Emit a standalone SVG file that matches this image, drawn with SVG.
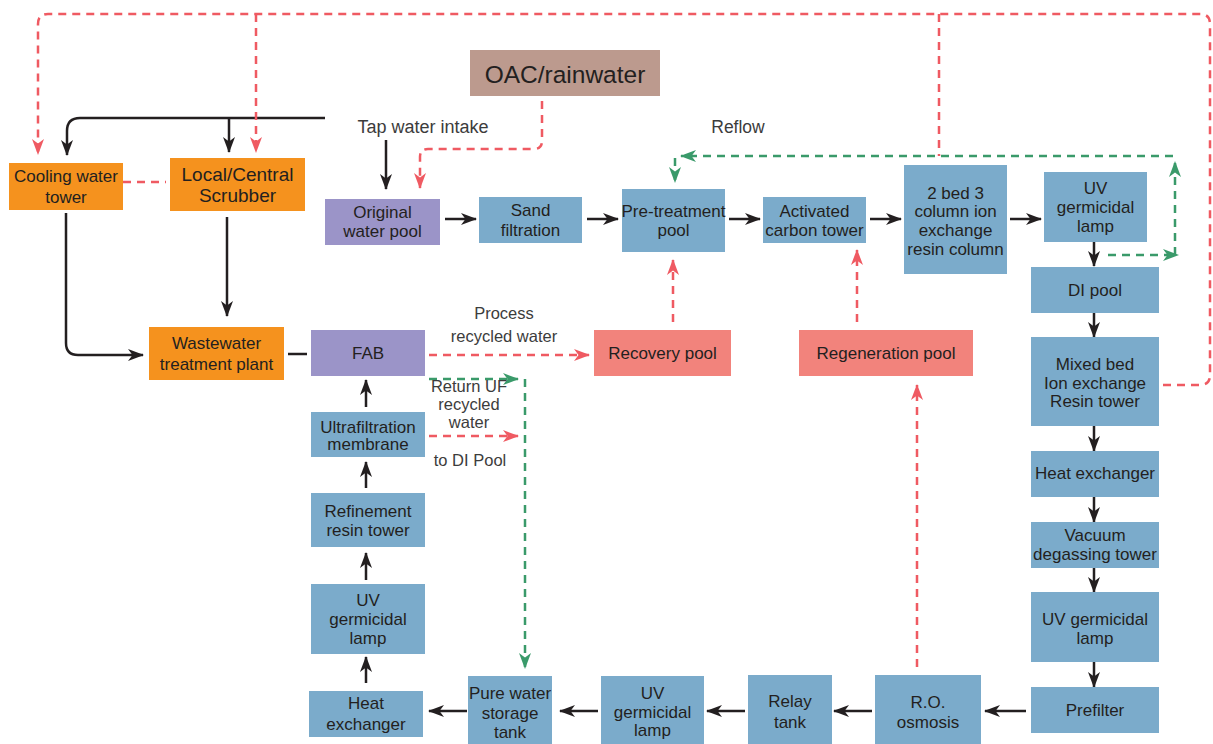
<svg xmlns="http://www.w3.org/2000/svg" width="1213" height="744" viewBox="0 0 1213 744">
<defs>
<style>
.t{font-family:"Liberation Sans",Arial,Helvetica,sans-serif;font-size:17px;fill:#231F20;text-anchor:middle}
.lbl{font-family:"Liberation Sans",Arial,Helvetica,sans-serif;font-size:16.5px;fill:#3C3C3C;text-anchor:middle}
.or{fill:#F5921E}.bl{fill:#7BABCB}.pu{fill:#9B94C8}.br{fill:#BC9A8E}.sa{fill:#F2837C}
.k{fill:none;stroke:#231F20;stroke-width:2.5}
.r{fill:none;stroke:#EF5A62;stroke-width:2.5;stroke-dasharray:8 6}
.g{fill:none;stroke:#3A9A6A;stroke-width:2.5;stroke-dasharray:8 6}
</style>
<marker id="ak" viewBox="0 0 16 12" refX="15" refY="6" markerWidth="16" markerHeight="12" markerUnits="userSpaceOnUse" orient="auto"><path d="M0,0 L16,6 L0,12 L4.5,6 z" fill="#231F20"/></marker>
<marker id="ar" viewBox="0 0 16 12" refX="15" refY="6" markerWidth="16" markerHeight="12" markerUnits="userSpaceOnUse" orient="auto"><path d="M0,0 L16,6 L0,12 L4.5,6 z" fill="#EF5A62"/></marker>
<marker id="ag" viewBox="0 0 16 12" refX="15" refY="6" markerWidth="16" markerHeight="12" markerUnits="userSpaceOnUse" orient="auto"><path d="M0,0 L16,6 L0,12 L4.5,6 z" fill="#3A9A6A"/></marker>
</defs>
<rect width="1213" height="744" fill="#FFFFFF"/>

<g id="connectors">
<!-- black -->
<path class="k" d="M325,118 H80 Q67,118 67,131 V155" marker-end="url(#ak)"/>
<path class="k" d="M229,118 V152" marker-end="url(#ak)"/>
<path class="k" d="M386,140 V189" marker-end="url(#ak)"/>
<path class="k" d="M66,213 V343 Q66,355 78,355 H143" marker-end="url(#ak)"/>
<path class="k" d="M227,217 V316" marker-end="url(#ak)"/>
<path class="k" d="M288,354 H307"/>
<path class="k" d="M445,219 H476" marker-end="url(#ak)"/>
<path class="k" d="M587,219 H618" marker-end="url(#ak)"/>
<path class="k" d="M729,219 H760" marker-end="url(#ak)"/>
<path class="k" d="M870,219 H901" marker-end="url(#ak)"/>
<path class="k" d="M1010,219 H1041" marker-end="url(#ak)"/>
<path class="k" d="M1094,242 V266" marker-end="url(#ak)"/>
<path class="k" d="M1094,313 V337" marker-end="url(#ak)"/>
<path class="k" d="M1094,426 V451" marker-end="url(#ak)"/>
<path class="k" d="M1094,497 V522" marker-end="url(#ak)"/>
<path class="k" d="M1094,568 V592" marker-end="url(#ak)"/>
<path class="k" d="M1094,662 V687" marker-end="url(#ak)"/>
<path class="k" d="M1026,711 H985" marker-end="url(#ak)"/>
<path class="k" d="M872,711 H834" marker-end="url(#ak)"/>
<path class="k" d="M745,711 H707" marker-end="url(#ak)"/>
<path class="k" d="M598,711 H560" marker-end="url(#ak)"/>
<path class="k" d="M467,711 H429" marker-end="url(#ak)"/>
<path class="k" d="M366,683 V657" marker-end="url(#ak)"/>
<path class="k" d="M366,580 V553" marker-end="url(#ak)"/>
<path class="k" d="M366,488 V462" marker-end="url(#ak)"/>
<path class="k" d="M366,407 V380" marker-end="url(#ak)"/>
<!-- red dashed -->
<path class="r" d="M1163,385 H1200 Q1210,385 1210,375 V24 Q1210,14 1200,14 H48 Q38,14 38,24 V154" marker-end="url(#ar)"/>
<path class="r" d="M256,14 V152" marker-end="url(#ar)"/>
<path class="r" d="M939,14 V156"/>
<path class="r" d="M123,182 H166"/>
<path class="r" d="M542,101 V141 Q542,149 534,149 H428 Q420,149 420,157 V188" marker-end="url(#ar)"/>
<path class="r" d="M429,355 H589" marker-end="url(#ar)"/>
<path class="r" d="M429,436 H518" marker-end="url(#ar)"/>
<path class="r" d="M673,322 V260" marker-end="url(#ar)"/>
<path class="r" d="M857,322 V250" marker-end="url(#ar)"/>
<path class="r" d="M917,667 V385" marker-end="url(#ar)"/>
<!-- green dashed -->
<path class="g" d="M1108,255 H1178" marker-end="url(#ag)"/>
<path class="g" d="M1175,255 V162" marker-end="url(#ag)"/>
<path class="g" d="M1173,156 H681" marker-end="url(#ag)"/>
<path class="g" d="M675,158 V182" marker-end="url(#ag)"/>
<path class="g" d="M429,379 H518" marker-end="url(#ag)"/>
<path class="g" d="M525,379 V668" marker-end="url(#ag)"/>
</g>

<g id="labels">
<text class="lbl" x="423" y="133" style="font-size:18px">Tap water intake</text>
<text class="lbl" x="738" y="133" style="font-size:17.5px">Reflow</text>
<text class="lbl" x="504" y="319">Process</text>
<text class="lbl" x="504" y="342">recycled water</text>
<text class="lbl" x="469" y="392">Return UF</text>
<text class="lbl" x="469" y="410">recycled</text>
<text class="lbl" x="469" y="428">water</text>
<text class="lbl" x="470" y="466">to DI Pool</text>
</g>

<g id="cooling"><rect class="or" x="9" y="163" width="114" height="47"/><text class="t" x="66" y="182">Cooling water</text><text class="t" x="66" y="203">tower</text></g>
<g id="scrubber"><rect class="or" x="170" y="158" width="135" height="53"/><text class="t" x="237.5" y="181" style="font-size:19px">Local/Central</text><text class="t" x="237.5" y="202" style="font-size:19px">Scrubber</text></g>
<g id="oac"><rect class="br" x="470" y="50" width="190" height="46"/><text class="t" x="565" y="83" style="font-size:24.5px">OAC/rainwater</text></g>
<g id="original"><rect class="pu" x="325" y="199" width="115" height="46"/><text class="t" x="382.5" y="218">Original</text><text class="t" x="382.5" y="237">water pool</text></g>
<g id="sand"><rect class="bl" x="479" y="197" width="103" height="46"/><text class="t" x="530.5" y="216">Sand</text><text class="t" x="530.5" y="236">filtration</text></g>
<g id="pretreat"><rect class="bl" x="622" y="189" width="103" height="63"/><text class="t" x="673.5" y="217">Pre-treatment</text><text class="t" x="673.5" y="236">pool</text></g>
<g id="carbon"><rect class="bl" x="763" y="197" width="103" height="46"/><text class="t" x="814.5" y="217">Activated</text><text class="t" x="814.5" y="236">carbon tower</text></g>
<g id="twobed"><rect class="bl" x="904" y="165" width="103" height="109"/><text class="t" x="955.5" y="199">2 bed 3</text><text class="t" x="955.5" y="217">column ion</text><text class="t" x="955.5" y="236">exchange</text><text class="t" x="955.5" y="255">resin column</text></g>
<g id="uv1"><rect class="bl" x="1044" y="172" width="103" height="70"/><text class="t" x="1095.5" y="194">UV</text><text class="t" x="1095.5" y="213">germicidal</text><text class="t" x="1095.5" y="232">lamp</text></g>
<g id="dipool"><rect class="bl" x="1031" y="267" width="128" height="46"/><text class="t" x="1095" y="296">DI pool</text></g>
<g id="mixedbed"><rect class="bl" x="1031" y="337" width="128" height="89"/><text class="t" x="1095" y="370">Mixed bed</text><text class="t" x="1095" y="389">Ion exchange</text><text class="t" x="1095" y="407">Resin tower</text></g>
<g id="heat1"><rect class="bl" x="1031" y="451" width="128" height="46"/><text class="t" x="1095" y="479">Heat exchanger</text></g>
<g id="vacuum"><rect class="bl" x="1031" y="522" width="128" height="46"/><text class="t" x="1095" y="541">Vacuum</text><text class="t" x="1095" y="560">degassing tower</text></g>
<g id="uv2"><rect class="bl" x="1031" y="592" width="128" height="70"/><text class="t" x="1095" y="625">UV germicidal</text><text class="t" x="1095" y="644">lamp</text></g>
<g id="prefilter"><rect class="bl" x="1031" y="687" width="128" height="46"/><text class="t" x="1095" y="716">Prefilter</text></g>
<g id="ro"><rect class="bl" x="875" y="675" width="106" height="69"/><text class="t" x="928" y="708">R.O.</text><text class="t" x="928" y="728">osmosis</text></g>
<g id="relay"><rect class="bl" x="748" y="675" width="84" height="69"/><text class="t" x="790" y="707">Relay</text><text class="t" x="790" y="728">tank</text></g>
<g id="uv3"><rect class="bl" x="601" y="676" width="103" height="68"/><text class="t" x="652.5" y="699">UV</text><text class="t" x="652.5" y="718">germicidal</text><text class="t" x="652.5" y="736">lamp</text></g>
<g id="purewater"><rect class="bl" x="468" y="676" width="84" height="68"/><text class="t" x="510" y="699">Pure water</text><text class="t" x="510" y="719">storage</text><text class="t" x="510" y="738">tank</text></g>
<g id="heat2"><rect class="bl" x="309" y="691" width="114" height="46"/><text class="t" x="366" y="709">Heat</text><text class="t" x="366" y="730">exchanger</text></g>
<g id="uv4"><rect class="bl" x="311" y="584" width="114" height="70"/><text class="t" x="368" y="606">UV</text><text class="t" x="368" y="625">germicidal</text><text class="t" x="368" y="644">lamp</text></g>
<g id="refinement"><rect class="bl" x="311" y="493" width="114" height="54"/><text class="t" x="368" y="517">Refinement</text><text class="t" x="368" y="536">resin tower</text></g>
<g id="uf"><rect class="bl" x="311" y="412" width="114" height="45"/><text class="t" x="368" y="433">Ultrafiltration</text><text class="t" x="368" y="450">membrane</text></g>
<g id="fab"><rect class="pu" x="311" y="330" width="114" height="46"/><text class="t" x="368" y="359">FAB</text></g>
<g id="wastewater"><rect class="or" x="149" y="327" width="135" height="53"/><text class="t" x="216.5" y="349">Wastewater</text><text class="t" x="216.5" y="370">treatment plant</text></g>
<g id="recovery"><rect class="sa" x="594" y="330" width="137" height="46"/><text class="t" x="662.5" y="359">Recovery pool</text></g>
<g id="regeneration"><rect class="sa" x="799" y="330" width="174" height="46"/><text class="t" x="886" y="359">Regeneration pool</text></g>
</svg>
